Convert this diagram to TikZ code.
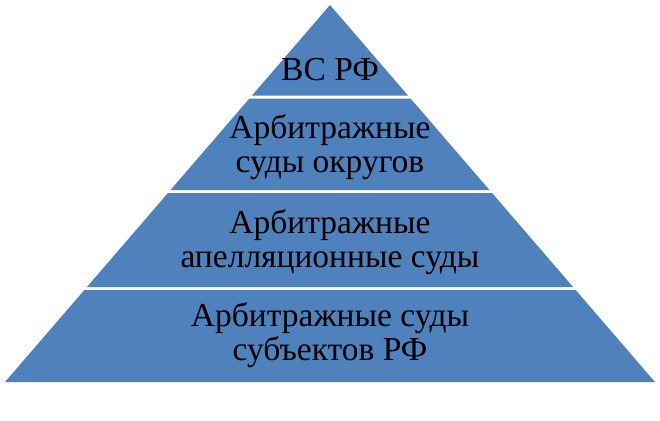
\documentclass[tikz,border=0pt]{standalone}
\usepackage{fontspec}
\setmainfont{Liberation Serif}
\definecolor{pyrblue}{HTML}{4F81BD}
\tikzset{
  band/.style={fill=pyrblue},
  lbl/.style={align=center, text=black, inner sep=0pt, font=\fontsize{33.5}{34}\selectfont}
}
\newcommand{\hw}[1]{0.862*(#1-5)}
\begin{document}
\begin{tikzpicture}[x=1pt,y=-1pt]
\useasboundingbox (0,0) rectangle (660,420);
% bands
\fill[band] (330,5) -- ({330+\hw{95.5}},95.5) -- ({330-\hw{95.5}},95.5) -- cycle;
\fill[band] ({330-\hw{98.5}},98.5) -- ({330+\hw{98.5}},98.5) -- ({330+\hw{190}},190) -- ({330-\hw{190}},190) -- cycle;
\fill[band] ({330-\hw{193}},193) -- ({330+\hw{193}},193) -- ({330+\hw{287}},287) -- ({330-\hw{287}},287) -- cycle;
\fill[band] ({330-\hw{290}},290) -- ({330+\hw{290}},290) -- ({330+\hw{382}},382) -- ({330-\hw{382}},382) -- cycle;
% labels
\node[lbl, anchor=base] (vs) at (330,80) {ВС РФ};
\node[lbl, anchor=base] (okr) at (330,172) {Арбитражные\\суды округов};
\node[lbl, anchor=base] (apel) at (330,267) {Арбитражные\\апелляционные суды};
\node[lbl, anchor=base] (subj) at (330,360) {Арбитражные суды\\субъектов РФ};
\end{tikzpicture}
\end{document}
